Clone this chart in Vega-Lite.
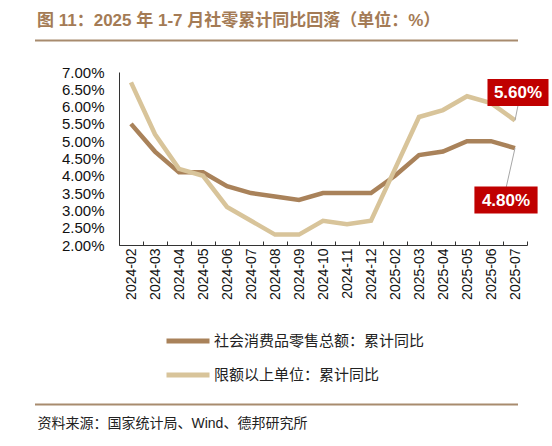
{
  "$schema": "https://vega.github.io/schema/vega-lite/v6.json",
  "width": 408,
  "height": 173,
  "autosize": "none",
  "padding": {"left": 119, "top": 72, "right": 25, "bottom": 201},
  "background": "white",
  "config": {
    "view": {"stroke": null},
    "font": "Liberation Sans, Noto Sans CJK SC"
  },
  "title": {
    "text": "图 11：2025 年 1-7 月社零累计同比回落（单位：%）",
    "anchor": "start",
    "frame": "group",
    "dx": -82,
    "offset": 10,
    "fontSize": 17,
    "fontWeight": "bold",
    "color": "#A47B55",
    "font": "Liberation Sans, Noto Sans CJK SC"
  },
  "data": {
    "values": [
      {"month": "2024-02", "series": "社会消费品零售总额：累计同比", "value": 0.055},
      {"month": "2024-03", "series": "社会消费品零售总额：累计同比", "value": 0.047},
      {"month": "2024-04", "series": "社会消费品零售总额：累计同比", "value": 0.041},
      {"month": "2024-05", "series": "社会消费品零售总额：累计同比", "value": 0.041},
      {"month": "2024-06", "series": "社会消费品零售总额：累计同比", "value": 0.037},
      {"month": "2024-07", "series": "社会消费品零售总额：累计同比", "value": 0.035},
      {"month": "2024-08", "series": "社会消费品零售总额：累计同比", "value": 0.034},
      {"month": "2024-09", "series": "社会消费品零售总额：累计同比", "value": 0.033},
      {"month": "2024-10", "series": "社会消费品零售总额：累计同比", "value": 0.035},
      {"month": "2024-11", "series": "社会消费品零售总额：累计同比", "value": 0.035},
      {"month": "2024-12", "series": "社会消费品零售总额：累计同比", "value": 0.035},
      {"month": "2025-02", "series": "社会消费品零售总额：累计同比", "value": 0.040},
      {"month": "2025-03", "series": "社会消费品零售总额：累计同比", "value": 0.046},
      {"month": "2025-04", "series": "社会消费品零售总额：累计同比", "value": 0.047},
      {"month": "2025-05", "series": "社会消费品零售总额：累计同比", "value": 0.050},
      {"month": "2025-06", "series": "社会消费品零售总额：累计同比", "value": 0.050},
      {"month": "2025-07", "series": "社会消费品零售总额：累计同比", "value": 0.048},
      {"month": "2024-02", "series": "限额以上单位：累计同比", "value": 0.067},
      {"month": "2024-03", "series": "限额以上单位：累计同比", "value": 0.052},
      {"month": "2024-04", "series": "限额以上单位：累计同比", "value": 0.042},
      {"month": "2024-05", "series": "限额以上单位：累计同比", "value": 0.040},
      {"month": "2024-06", "series": "限额以上单位：累计同比", "value": 0.031},
      {"month": "2024-07", "series": "限额以上单位：累计同比", "value": 0.027},
      {"month": "2024-08", "series": "限额以上单位：累计同比", "value": 0.023},
      {"month": "2024-09", "series": "限额以上单位：累计同比", "value": 0.023},
      {"month": "2024-10", "series": "限额以上单位：累计同比", "value": 0.027},
      {"month": "2024-11", "series": "限额以上单位：累计同比", "value": 0.026},
      {"month": "2024-12", "series": "限额以上单位：累计同比", "value": 0.027},
      {"month": "2025-02", "series": "限额以上单位：累计同比", "value": 0.042},
      {"month": "2025-03", "series": "限额以上单位：累计同比", "value": 0.057},
      {"month": "2025-04", "series": "限额以上单位：累计同比", "value": 0.059},
      {"month": "2025-05", "series": "限额以上单位：累计同比", "value": 0.063},
      {"month": "2025-06", "series": "限额以上单位：累计同比", "value": 0.061},
      {"month": "2025-07", "series": "限额以上单位：累计同比", "value": 0.056}
    ]
  },
  "encoding": {
    "x": {
      "field": "month",
      "type": "ordinal",
      "scale": {"type": "band", "paddingInner": 0, "paddingOuter": 0},
      "axis": {
        "title": "资料来源：国家统计局、Wind、德邦研究所",
        "titleAnchor": "start",
        "titleAlign": "left",
        "titleBaseline": "middle",
        "titleX": -82,
        "titleY": 178,
        "titleFontSize": 14,
        "titleFontWeight": "normal",
        "titleColor": "#222222",
        "titleFont": "Liberation Sans, Noto Sans CJK SC",
        "labelAngle": -90,
        "labelFontSize": 14,
        "labelColor": "#111111",
        "labelPadding": 7,
        "tickBand": "extent",
        "tickSize": -4,
        "tickColor": "#333333",
        "domainColor": "#333333",
        "grid": false
      }
    },
    "y": {
      "field": "value",
      "type": "quantitative",
      "scale": {"domain": [0.02, 0.07], "nice": false, "zero": false},
      "axis": {
        "title": null,
        "format": ".2%",
        "values": [0.02, 0.025, 0.03, 0.035, 0.04, 0.045, 0.05, 0.055, 0.06, 0.065, 0.07],
        "labelFontSize": 15,
        "labelColor": "#111111",
        "labelPadding": 15,
        "ticks": false,
        "domainColor": "#333333",
        "grid": false
      }
    }
  },
  "layer": [
    {
      "mark": {"type": "line", "strokeWidth": 4.5, "strokeJoin": "miter"},
      "encoding": {
        "color": {
          "field": "series",
          "type": "nominal",
          "scale": {
            "domain": ["社会消费品零售总额：累计同比", "限额以上单位：累计同比"],
            "range": ["#A9825A", "#D8C49A"]
          },
          "legend": {
            "title": null,
            "orient": "none",
            "legendX": 45,
            "legendY": 245,
            "direction": "vertical",
            "symbolType": "stroke",
            "symbolSize": 1849,
            "symbolStrokeWidth": 5,
            "labelFontSize": 15,
            "labelColor": "#222222",
            "labelFont": "Noto Sans CJK SC",
            "labelOffset": 2,
            "labelLimit": 400,
            "rowPadding": -8
          }
        }
      }
    },
    {
      "transform": [{"filter": "datum.month == '2025-07' && datum.value > 0.05"}],
      "mark": {"type": "rule", "color": "#A6A6A6", "strokeWidth": 1, "x2Offset": 3, "y2Offset": -15},
      "encoding": {"x2": {"field": "month"}, "y2": {"field": "value"}}
    },
    {
      "transform": [{"filter": "datum.month == '2025-07' && datum.value < 0.05"}],
      "mark": {"type": "rule", "color": "#A6A6A6", "strokeWidth": 1, "x2Offset": -9, "y2Offset": 40},
      "encoding": {"x2": {"field": "month"}, "y2": {"field": "value"}}
    },
    {
      "transform": [{"filter": "datum.month == '2025-07' && datum.value > 0.05"}],
      "mark": {"type": "point", "shape": "M-2.26,-1H2.26V1H-2.26Z", "size": 729, "filled": true, "opacity": 1, "color": "#C00000", "xOffset": 3, "yOffset": -28},
      "encoding": {}
    },
    {
      "transform": [{"filter": "datum.month == '2025-07' && datum.value < 0.05"}],
      "mark": {"type": "point", "shape": "M-2.34,-1H2.34V1H-2.34Z", "size": 729, "filled": true, "opacity": 1, "color": "#C00000", "xOffset": -9, "yOffset": 52},
      "encoding": {}
    },
    {
      "transform": [{"filter": "datum.month == '2025-07' && datum.value > 0.05"}],
      "mark": {"type": "text", "color": "white", "fontSize": 17, "fontWeight": "bold", "font": "Liberation Sans", "baseline": "middle", "xOffset": 3, "yOffset": -27},
      "encoding": {"text": {"field": "value", "type": "quantitative", "format": ".2%"}}
    },
    {
      "transform": [{"filter": "datum.month == '2025-07' && datum.value < 0.05"}],
      "mark": {"type": "text", "color": "white", "fontSize": 17, "fontWeight": "bold", "font": "Liberation Sans", "baseline": "middle", "xOffset": -9, "yOffset": 53},
      "encoding": {"text": {"field": "value", "type": "quantitative", "format": ".2%"}}
    },
    {
      "data": {"values": [{"line": "top"}]},
      "mark": {"type": "rule", "color": "#A88B6E", "strokeWidth": 2},
      "encoding": {"x": {"value": -84}, "x2": {"value": 399}, "y": {"value": -31.5}}
    },
    {
      "data": {"values": [{"line": "bottom"}]},
      "mark": {"type": "rule", "color": "#A88B6E", "strokeWidth": 2},
      "encoding": {"x": {"value": -84}, "x2": {"value": 399}, "y": {"value": 332.5}}
    }
  ]
}
